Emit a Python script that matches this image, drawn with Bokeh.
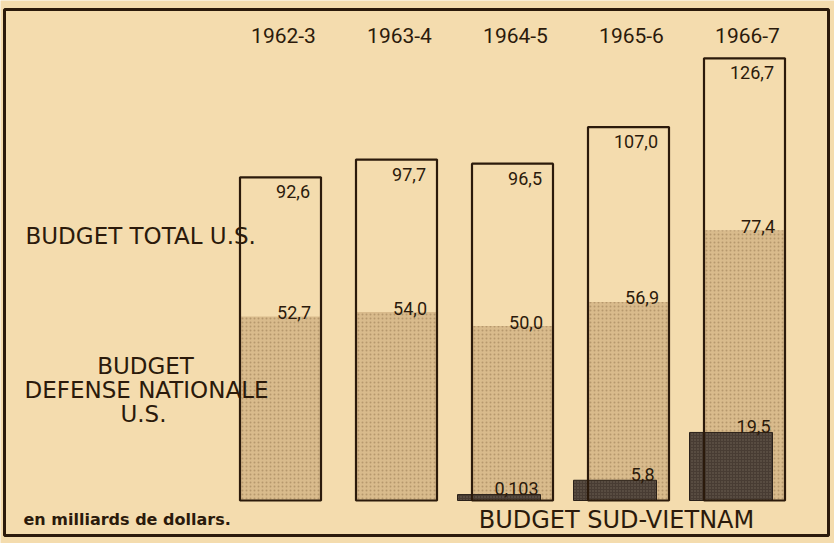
from bokeh.plotting import figure
from bokeh.models import Range1d, ColumnDataSource
from bokeh.core.properties import value
from bokeh.embed import file_html
from bokeh.resources import INLINE

# ---- data (milliards de dollars) ----
years = ["1962-3", "1963-4", "1964-5", "1965-6", "1966-7"]
total = [92.6, 97.7, 96.5, 107.0, 126.7]
defense = [52.7, 54.0, 50.0, 56.9, 77.4]
vn_years = ["1964-5", "1965-6", "1966-7"]
vietnam = [0.103, 5.8, 19.5]

fmt = lambda v: (("%.3f" % v) if v < 1 else ("%.1f" % v)).replace(".", ",")

# ---- layout helpers (reference pixels -> data) ----
W, H = 834, 543
X0PX, DX = 280.0, 116.0      # x of first bar centre, spacing
BASEPX, DY = 500.0, 3.49     # y of baseline, px per unit
def px2x(px): return (px - X0PX) / DX
def px2y(py): return (BASEPX - py) / DY

bg = "#f4dcae"
ink = "#2b1a0b"
def_fill = "#d9bb8c"
vn_fill = "#483c33"

p = figure(width=W, height=H, output_backend="svg", toolbar_location=None,
           x_range=Range1d(px2x(0), px2x(W)), y_range=Range1d(px2y(H), px2y(0)),
           x_axis_type=None, y_axis_type=None, min_border=0)
p.grid.visible = False
p.background_fill_color = bg
p.border_fill_color = bg
p.outline_line_color = None

# outer frame
p.quad(left=[px2x(4)], right=[px2x(828)], top=[px2y(9)], bottom=[px2y(535)],
       fill_color=None, line_color=ink, line_width=3)

idx = list(range(len(years)))
bw = 81 / DX
src = ColumnDataSource(dict(x=idx, total=total, defense=defense, year=years,
                            tl=[fmt(v) for v in total], dl=[fmt(v) for v in defense],
                            xr=[i + bw / 2 for i in idx]))

# defense (stippled)
p.vbar(x="x", top="defense", bottom=0, width=bw, source=src, fill_color=def_fill,
       line_color=None, hatch_pattern=".", hatch_color="#8c6c48", hatch_alpha=0.45, hatch_scale=4)

# vietnam (dark)
vx = [years.index(y) for y in vn_years]
vsrc = ColumnDataSource(dict(x=[i - 13.5 / DX for i in vx], top=[max(v, 1.7) for v in vietnam],
                             right=[i - 13.5 / DX + 0.5 * 83 / DX for i in vx],
                             val=vietnam, lab=[fmt(v) for v in vietnam]))
p.vbar(x="x", top="top", bottom=0, width=83 / DX, source=vsrc, fill_color=vn_fill,
       line_color="#2a2019", line_width=1, hatch_pattern=".", hatch_color="#b8a894",
       hatch_alpha=0.35, hatch_scale=3)

# total (outline)
p.vbar(x="x", top="total", bottom=0, width=bw, source=src, fill_color=None,
       line_color=ink, line_width=2.2)

# year labels
p.text(x="x", y=px2y(34.5), text="year", source=src, text_font=value("Roboto"),
       text_font_size="21px", text_color=ink, text_align="center", text_baseline="middle",
       x_offset=3)

# value labels
p.text(x="xr", y="total", text="tl", source=src, text_font=value("Roboto"),
       text_font_size="18px", text_color=ink, text_align="right", text_baseline="top",
       x_offset=-11, y_offset=8)
p.text(x="xr", y="defense", text="dl", source=src, text_font=value("Roboto"),
       text_font_size="18px", text_color=ink, text_align="right", text_baseline="alphabetic",
       x_offset=-10, y_offset=-4)
p.text(x="right", y="top", text="lab", source=vsrc, text_font=value("Roboto"),
       text_font_size="18px", text_color=ink, text_align="right", text_baseline="alphabetic",
       x_offset=-2, y_offset=-6)

# side texts
def lab(txt, xpx, ypx, size, align="center", style="normal"):
    p.text(x=[px2x(xpx)], y=[px2y(ypx)], text=[txt], text_font=value("DejaVu Sans"),
           text_font_size=size, text_color=ink, text_align=align, text_baseline="middle",
           text_font_style=style)

lab("BUDGET TOTAL U.S.", 25, 235, "23px", "left")
lab("BUDGET", 145, 365, "23px")
lab("DEFENSE NATIONALE", 146, 389, "23px")
lab("U.S.", 143, 413, "23px")
lab("BUDGET SUD-VIETNAM", 616, 519, "24px")
lab("en milliards de dollars.", 23, 519, "16px", "left", "bold")

open("out.html", "w").write(file_html(p, INLINE))
